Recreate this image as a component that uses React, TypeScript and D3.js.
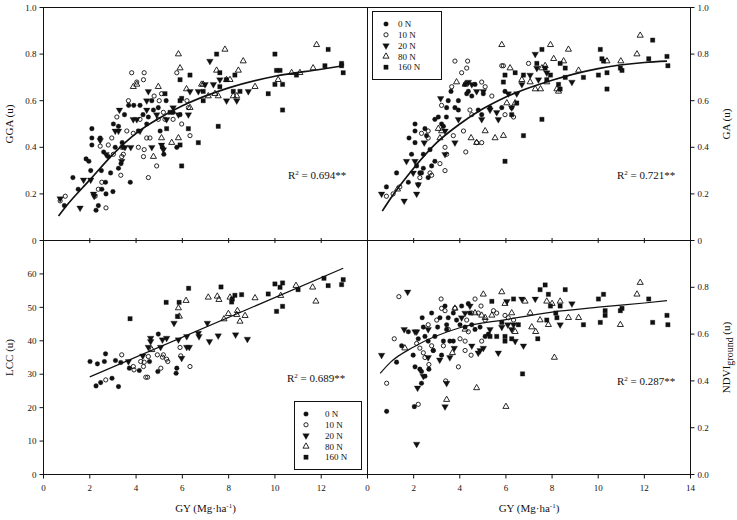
import { useRef, useEffect } from "react";
import * as d3 from "d3";

type Pt = [number, number];

const seriesNames = ["0 N", "10 N", "20 N", "80 N", "160 N"];

// GGA (top left)
const gga0N: Pt[] = [
    [1.27, 0.27], [0.9, 0.15], [2.09, 0.48], [2.09, 0.44], [2.09, 0.41], [1.84, 0.35], [1.96, 0.34],
    [2.04, 0.3], [2.45, 0.44], [2.27, 0.13], [2.37, 0.15], [2.52, 0.22], [2.7, 0.2], [3.0, 0.21],
    [2.68, 0.25], [2.6, 0.38], [2.8, 0.36], [2.9, 0.29], [3.02, 0.5], [3.24, 0.49], [3.24, 0.31],
    [3.35, 0.33], [3.4, 0.42], [3.45, 0.4], [3.5, 0.54], [3.68, 0.58], [3.75, 0.25], [3.9, 0.58],
    [4.17, 0.58], [4.3, 0.54], [4.46, 0.5], [4.53, 0.53], [4.68, 0.6], [4.75, 0.56], [4.96, 0.57],
    [5.04, 0.47], [5.14, 0.4], [5.2, 0.37], [5.3, 0.6], [5.6, 0.55], [5.76, 0.4], [5.9, 0.54],
    [3.1, 0.4], [2.5, 0.3], [1.5, 0.22], [4.1, 0.47],
];
const gga10N: Pt[] = [
    [0.72, 0.17], [0.94, 0.19], [2.23, 0.19], [2.37, 0.22], [2.52, 0.25], [2.45, 0.405], [2.7, 0.14],
    [2.8, 0.41], [2.95, 0.44], [3.17, 0.53], [3.34, 0.28], [3.38, 0.36], [3.45, 0.37], [3.6, 0.47],
    [3.67, 0.6], [3.81, 0.72], [4.03, 0.68], [4.32, 0.69], [4.35, 0.72], [4.32, 0.36], [4.35, 0.39],
    [4.46, 0.44], [4.53, 0.27], [4.6, 0.44], [4.89, 0.32], [4.96, 0.52], [5.0, 0.6], [5.1, 0.63],
    [5.18, 0.55], [5.25, 0.52], [5.76, 0.72], [5.97, 0.5], [6.33, 0.45], [6.26, 0.57], [4.78, 0.62],
    [4.17, 0.52], [3.88, 0.46], [3.02, 0.37], [4.1, 0.4], [3.38, 0.4], [6.2, 0.6], [5.6, 0.52],
];
const gga20N: Pt[] = [
    [0.72, 0.18], [1.58, 0.14], [1.73, 0.26], [2.04, 0.26], [2.16, 0.2], [2.19, 0.19], [2.7, 0.37],
    [3.28, 0.56], [3.1, 0.47], [3.24, 0.47], [3.38, 0.34], [3.52, 0.4], [3.77, 0.4], [3.88, 0.52],
    [4.03, 0.52], [4.46, 0.6], [4.53, 0.64], [4.68, 0.4], [5.1, 0.41], [5.18, 0.39], [5.32, 0.52],
    [5.83, 0.54], [6.26, 0.54], [6.33, 0.64], [6.69, 0.64], [7.19, 0.77], [7.34, 0.67], [7.91, 0.6],
    [8.35, 0.6], [8.85, 0.64], [5.6, 0.57], [4.46, 0.56], [4.17, 0.47], [2.45, 0.43], [4.89, 0.54],
    [6.98, 0.67], [7.62, 0.69],
];
const gga80N: Pt[] = [
    [3.88, 0.66], [4.03, 0.67], [4.75, 0.36], [4.96, 0.66], [5.1, 0.44], [5.54, 0.42], [5.83, 0.8],
    [5.9, 0.74], [5.83, 0.44], [6.18, 0.65], [7.12, 0.62], [7.55, 0.62], [7.84, 0.82], [7.91, 0.69],
    [8.06, 0.69], [8.2, 0.62], [8.35, 0.62], [8.42, 0.73], [8.63, 0.77], [9.14, 0.66], [10.14, 0.69],
    [10.72, 0.72], [11.08, 0.72], [11.65, 0.74], [11.8, 0.84], [7.48, 0.73], [7.41, 0.63], [6.83, 0.67],
    [6.9, 0.67], [6.33, 0.57],
];
const gga160N: Pt[] = [
    [5.25, 0.63], [5.32, 0.48], [5.47, 0.55], [5.9, 0.69], [5.9, 0.41], [5.97, 0.32], [6.33, 0.71],
    [6.26, 0.48], [6.69, 0.42], [6.9, 0.6], [7.48, 0.8], [7.55, 0.49], [7.62, 0.72], [7.62, 0.66],
    [8.2, 0.64], [8.27, 0.71], [8.49, 0.64], [9.71, 0.63], [10.0, 0.8], [10.0, 0.67], [10.07, 0.73],
    [10.22, 0.73], [10.33, 0.67], [10.33, 0.56], [12.16, 0.75], [12.3, 0.82], [12.88, 0.76],
    [12.95, 0.72], [12.88, 0.75], [5.97, 0.61], [5.9, 0.6], [7.9, 0.69], [10.93, 0.71], [6.9, 0.64],
];
const ggaFit: Pt[] = [
    [0.65, 0.105], [1, 0.15], [2, 0.26], [3, 0.37], [4, 0.46], [5, 0.525], [6, 0.578],
    [8, 0.655], [10, 0.705], [12, 0.735], [12.95, 0.75],
];

// GA (top right)
const ga0N: Pt[] = [
    [0.82, 0.23], [1.26, 0.29], [1.77, 0.25], [1.8, 0.44], [1.91, 0.37], [2.06, 0.42], [2.06, 0.5],
    [2.06, 0.47], [2.13, 0.32], [2.27, 0.29], [2.34, 0.29], [2.42, 0.31], [2.49, 0.48], [2.63, 0.27],
    [2.56, 0.45], [2.71, 0.39], [2.78, 0.32], [2.92, 0.34], [2.92, 0.52], [3.07, 0.53], [3.21, 0.5],
    [3.29, 0.49], [3.42, 0.53], [3.5, 0.6], [3.62, 0.64], [3.79, 0.57], [3.94, 0.6], [4.23, 0.67],
    [4.3, 0.63], [4.37, 0.64], [4.52, 0.62], [4.66, 0.67], [4.8, 0.56], [4.95, 0.54], [5.31, 0.57],
    [5.82, 0.57], [5.96, 0.64], [3.43, 0.57], [2.42, 0.37], [3.94, 0.56], [5.02, 0.63],
];
const ga10N: Pt[] = [
    [0.82, 0.19], [1.11, 0.2], [1.4, 0.23], [2.2, 0.24], [2.27, 0.27], [2.34, 0.46], [2.63, 0.47],
    [2.63, 0.44], [2.71, 0.29], [2.78, 0.28], [3.14, 0.33], [3.21, 0.58], [3.36, 0.4], [3.36, 0.3],
    [3.43, 0.37], [3.65, 0.66], [3.79, 0.77], [4.08, 0.72], [4.16, 0.47], [4.26, 0.38], [4.3, 0.74],
    [4.34, 0.77], [4.44, 0.56], [4.52, 0.54], [4.73, 0.42], [4.95, 0.42], [4.95, 0.68], [5.1, 0.66],
    [5.39, 0.62], [5.82, 0.75], [5.89, 0.75], [5.96, 0.54], [6.33, 0.53], [6.25, 0.57], [6.98, 0.76],
    [3.72, 0.45],
];
const ga20N: Pt[] = [
    [0.61, 0.2], [1.59, 0.17], [1.69, 0.34], [1.98, 0.29], [2.06, 0.34], [2.13, 0.2], [2.2, 0.24],
    [2.46, 0.42], [3.17, 0.61], [3.36, 0.47], [3.36, 0.37], [3.79, 0.42], [3.94, 0.52], [4.37, 0.68],
    [4.52, 0.67], [4.73, 0.64], [4.95, 0.52], [5.02, 0.64], [5.31, 0.56], [5.6, 0.55], [5.67, 0.52],
    [6.1, 0.63], [6.25, 0.57], [6.47, 0.63], [6.69, 0.67], [7.05, 0.71], [7.27, 0.8], [7.41, 0.69],
    [7.77, 0.72], [8.86, 0.68], [7.34, 0.74],
];
const ga80N: Pt[] = [
    [1.3, 0.22], [3.07, 0.48], [3.14, 0.44], [3.21, 0.47], [3.86, 0.68], [4.23, 0.67], [4.49, 0.44],
    [4.73, 0.42], [5.1, 0.47], [5.53, 0.44], [5.82, 0.84], [5.89, 0.45], [6.04, 0.59], [6.18, 0.74],
    [6.69, 0.69], [7.05, 0.68], [7.27, 0.65], [7.5, 0.65], [7.7, 0.75], [7.93, 0.84], [8.07, 0.78],
    [8.21, 0.65], [8.28, 0.64], [8.5, 0.77], [8.71, 0.82], [9.15, 0.73], [10.38, 0.77], [10.98, 0.77],
    [11.68, 0.8], [11.82, 0.88], [7.56, 0.74], [7.77, 0.68], [6.4, 0.59],
];
const ga160N: Pt[] = [
    [5.96, 0.34], [5.96, 0.71], [5.89, 0.68], [6.4, 0.72], [6.47, 0.59], [6.25, 0.54], [6.76, 0.45],
    [7.34, 0.76], [7.56, 0.82], [7.56, 0.52], [7.7, 0.74], [7.77, 0.69], [7.93, 0.71], [8.28, 0.67],
    [8.35, 0.76], [8.35, 0.65], [8.57, 0.74], [8.57, 0.7], [9.36, 0.7], [10.01, 0.71], [10.09, 0.82],
    [10.16, 0.78], [10.23, 0.77], [10.38, 0.72], [10.38, 0.65], [10.96, 0.74], [11.03, 0.73],
    [12.19, 0.78], [12.36, 0.86], [12.98, 0.79], [13.02, 0.75], [6.76, 0.71],
];
const gaFit: Pt[] = [
    [0.64, 0.126], [1, 0.18], [2, 0.31], [3, 0.42], [4, 0.5], [5, 0.565], [6, 0.616],
    [8, 0.688], [10, 0.738], [12, 0.764], [12.98, 0.77],
];

// LCC (bottom left)
const lcc0N: Pt[] = [
    [2.01, 33.8], [2.27, 26.5], [2.33, 33.1], [2.47, 27.5], [2.63, 33.8], [2.68, 36.1], [2.96, 28.8],
    [3.11, 34.1], [3.24, 26.3], [3.34, 33.5], [3.71, 31.8], [4.14, 31.1], [4.58, 33.8], [4.96, 42],
    [4.94, 30.8], [5.76, 31.8], [5.73, 30.3],
];
const lcc10N: Pt[] = [
    [2.69, 28.3], [3.38, 35.8], [3.88, 32.3], [3.91, 31.3], [4.2, 33.8], [4.32, 32.3], [4.35, 33.6],
    [4.42, 29.1], [4.5, 29.1], [4.53, 35.3], [4.92, 35.8], [5.07, 31.8], [5.14, 35.1], [5.18, 35.8],
    [5.32, 34.5], [5.37, 33.8], [5.9, 38], [5.93, 35.5], [6.33, 32.3],
];
const lcc20N: Pt[] = [
    [3.67, 33.8], [4.29, 35.5], [4.53, 38.1], [4.63, 40.8], [4.63, 39.8], [5.06, 38.1], [5.14, 40.3],
    [5.32, 40.8], [5.64, 45.3], [5.83, 40.3], [5.97, 34.8], [6.19, 38.1], [6.3, 38.1], [6.69, 42.3],
    [6.72, 41.3], [7.17, 39.8], [7.08, 45.3], [7.55, 41.5], [8.3, 41.8], [8.81, 40.5], [6.19, 41.3],
];
const lcc80N: Pt[] = [
    [4.68, 37.3], [5.83, 49.8], [5.87, 47.3], [6.16, 52], [7.12, 53], [7.51, 53.3], [7.58, 52.3],
    [7.8, 46.5], [7.99, 48.1], [8.06, 53], [8.35, 47.8], [8.38, 49], [8.49, 45.8], [8.71, 47.5],
    [9.14, 52.8], [10.91, 56.5], [10.25, 53.5], [11.77, 51.8], [11.63, 56],
];
const lcc160N: Pt[] = [
    [3.74, 46.6], [5.3, 51.5], [5.86, 51.5], [5.79, 47.3], [6.27, 55.7], [7.67, 56.1], [8.13, 51.6],
    [8.27, 53.6], [8.56, 53.8], [9.71, 54], [10, 57], [10.07, 48.8], [10.22, 56], [10.33, 50.3],
    [10.33, 57.3], [11.0, 55.3], [12.12, 58.7], [12.3, 56.5], [12.88, 56.8], [12.95, 58.3], [8.16, 52.5],
];
const lccFit: Pt[] = [[2.0, 29.2], [12.95, 61.7]];

// NDVI ground (bottom right)
const ndvi0N: Pt[] = [
    [0.83, 0.27], [1.26, 0.48], [1.48, 0.55], [1.77, 0.61], [1.98, 0.51], [2.06, 0.46], [2.03, 0.29],
    [2.2, 0.58], [2.27, 0.45], [2.34, 0.39], [2.37, 0.67], [2.49, 0.59], [2.49, 0.42], [2.63, 0.57],
    [2.66, 0.45], [2.78, 0.69], [2.85, 0.53], [2.92, 0.59], [3.04, 0.63], [3.14, 0.67], [3.21, 0.51],
    [3.29, 0.57], [3.36, 0.72], [3.43, 0.64], [3.5, 0.67], [3.57, 0.57], [3.72, 0.57], [3.72, 0.69],
    [3.86, 0.66], [4.08, 0.72], [4.23, 0.63], [4.37, 0.73], [4.44, 0.69], [4.52, 0.64], [4.66, 0.62],
    [4.88, 0.63], [5.1, 0.59], [5.24, 0.6], [2.34, 0.44], [2.42, 0.63], [4.01, 0.64], [3.43, 0.62],
];
const ndvi10N: Pt[] = [
    [0.83, 0.39], [1.16, 0.58], [1.36, 0.76], [2.13, 0.56], [2.2, 0.3], [2.27, 0.54], [2.42, 0.52],
    [2.49, 0.5], [2.63, 0.64], [2.66, 0.47], [2.78, 0.55], [2.85, 0.53], [3.0, 0.66], [3.19, 0.75],
    [3.21, 0.71], [3.29, 0.55], [3.36, 0.7], [3.39, 0.4], [3.5, 0.62], [3.79, 0.71], [3.94, 0.46],
    [4.01, 0.58], [4.23, 0.57], [4.3, 0.66], [4.37, 0.61], [4.49, 0.51], [4.52, 0.69], [4.66, 0.75],
    [4.8, 0.69], [4.92, 0.72], [4.95, 0.57], [5.1, 0.66], [5.46, 0.7], [5.6, 0.69], [5.96, 0.68],
    [6.1, 0.67], [6.33, 0.66], [4.23, 0.53],
];
const ndvi20N: Pt[] = [
    [0.61, 0.51], [1.59, 0.62], [1.74, 0.78], [2.06, 0.61], [2.13, 0.61], [2.17, 0.37], [2.13, 0.13],
    [2.42, 0.42], [2.63, 0.5], [2.63, 0.62], [3.13, 0.49], [3.36, 0.29], [3.43, 0.39], [3.57, 0.5],
    [3.76, 0.54], [4.08, 0.67], [4.44, 0.72], [4.52, 0.55], [4.8, 0.52], [4.88, 0.53], [5.02, 0.54],
    [5.31, 0.62], [5.67, 0.52], [5.82, 0.63], [6.04, 0.74], [6.08, 0.64], [6.33, 0.64], [6.4, 0.57],
    [6.69, 0.75], [6.76, 0.55], [7.27, 0.75], [8.35, 0.64], [8.86, 0.73], [4.23, 0.69], [6.25, 0.62],
];
const ndvi80N: Pt[] = [
    [1.62, 0.54], [3.43, 0.32], [3.68, 0.52], [3.79, 0.71], [4.73, 0.37], [4.95, 0.68], [5.02, 0.77],
    [5.1, 0.67], [5.39, 0.68], [5.82, 0.78], [5.96, 0.73], [6.0, 0.29], [6.25, 0.69], [6.4, 0.61],
    [6.83, 0.74], [7.05, 0.69], [7.12, 0.63], [7.29, 0.61], [7.48, 0.66], [7.77, 0.74], [7.84, 0.64],
    [8.0, 0.73], [8.1, 0.5], [8.35, 0.74], [8.71, 0.67], [9.15, 0.67], [10.96, 0.64], [11.68, 0.77],
    [11.82, 0.82], [4.23, 0.62], [4.66, 0.69],
];
const ndvi160N: Pt[] = [
    [5.31, 0.59], [5.6, 0.59], [5.82, 0.65], [5.96, 0.57], [5.96, 0.59], [6.25, 0.58], [6.33, 0.75],
    [6.72, 0.43], [7.38, 0.58], [7.48, 0.79], [7.7, 0.81], [7.77, 0.66], [7.84, 0.77], [7.93, 0.72],
    [8.16, 0.69], [8.21, 0.67], [8.57, 0.79], [8.35, 0.72], [9.36, 0.64], [10.01, 0.75], [10.09, 0.65],
    [10.23, 0.77], [10.3, 0.7], [10.3, 0.68], [10.96, 0.7], [11.03, 0.71], [12.19, 0.75], [12.36, 0.65],
    [12.98, 0.68], [13.02, 0.64], [5.39, 0.74], [6.54, 0.64],
];
const ndviFit: Pt[] = [
    [0.55, 0.432], [1, 0.48], [2, 0.545], [4, 0.627], [6, 0.662], [8, 0.694],
    [10, 0.715], [12, 0.733], [12.98, 0.743],
];

const r2Labels = ["0.694**", "0.721**", "0.689**", "0.287**"];
const xTicks = [0, 2, 4, 6, 8, 10, 12, 14];

const FONT = "'Liberation Serif', 'Times New Roman', serif";
const INK = "#111";

const App: React.FC = () => {
    const svgRef = useRef<SVGSVGElement | null>(null);

    useEffect(() => {
        if (!svgRef.current) return;
        const width = 737;
        const height = 520;
        const x0 = 43.5, xm = 367.5, x1 = 690.5;
        const y0 = 7.5, ym = 240.5, y1 = 474.5;

        const xL = d3.scaleLinear().domain([0, 14]).range([x0, xm]);
        const xR = d3.scaleLinear().domain([0, 14]).range([xm, x1]);
        const yTop = d3.scaleLinear().domain([0, 1]).range([ym, y0]);
        const yLcc = d3.scaleLinear().domain([0, 70]).range([y1, ym]);
        const yNdvi = d3.scaleLinear().domain([0, 1]).range([y1, ym]);

        const svg = d3.select(svgRef.current);
        svg.selectAll("*").remove();
        svg.attr("width", width).attr("height", height)
            .style("font-family", FONT);

        svg.append("rect").attr("width", width).attr("height", height).attr("fill", "#fff");

        const symbolFor = (i: number) => {
            const types = [d3.symbolCircle, d3.symbolCircle, d3.symbolTriangle, d3.symbolTriangle, d3.symbolSquare];
            const sizes = [17, 14, 19, 16, 19];
            return d3.symbol().type(types[i]).size(sizes[i])() ?? "";
        };
        const drawMarker = (
            g: d3.Selection<SVGGElement, unknown, null, undefined>,
            i: number, cx: number, cy: number,
        ) => {
            const open = i === 1 || i === 3;
            g.append("path")
                .attr("d", symbolFor(i))
                .attr("transform", `translate(${cx},${cy})${i === 2 ? " rotate(180)" : ""}`)
                .attr("fill", open ? "none" : INK)
                .attr("stroke", INK)
                .attr("stroke-width", open ? 0.9 : 0.3);
        };

        const panels = [
            { x: xL, y: yTop, sets: [gga0N, gga10N, gga20N, gga80N, gga160N], fit: ggaFit, fw: 1.7, r2: r2Labels[0], rx: 288, ry: 179 },
            { x: xR, y: yTop, sets: [ga0N, ga10N, ga20N, ga80N, ga160N], fit: gaFit, fw: 1.7, r2: r2Labels[1], rx: 617, ry: 179 },
            { x: xL, y: yLcc, sets: [lcc0N, lcc10N, lcc20N, lcc80N, lcc160N], fit: lccFit, fw: 1.2, r2: r2Labels[2], rx: 287, ry: 382 },
            { x: xR, y: yNdvi, sets: [ndvi0N, ndvi10N, ndvi20N, ndvi80N, ndvi160N], fit: ndviFit, fw: 1.2, r2: r2Labels[3], rx: 617, ry: 385 },
        ];

        panels.forEach((p) => {
            const g = svg.append("g");
            p.sets.forEach((pts, i) => {
                pts.forEach(([dx, dy]) => drawMarker(g, i, p.x(dx), p.y(dy)));
            });
            const line = d3.line<Pt>()
                .x((d) => p.x(d[0]))
                .y((d) => p.y(d[1]))
                .curve(d3.curveMonotoneX);
            g.append("path").attr("d", line(p.fit) ?? "")
                .attr("fill", "none").attr("stroke", INK).attr("stroke-width", p.fw);
            const t = g.append("text").attr("x", p.rx).attr("y", p.ry)
                .attr("font-size", 11).attr("fill", INK);
            t.append("tspan").text("R");
            t.append("tspan").attr("dy", -4).attr("font-size", 7).text("2");
            t.append("tspan").attr("dy", 4).text(` = ${p.r2}`);
        });

        // frame
        const frame = svg.append("g").attr("stroke", INK).attr("stroke-width", 1).attr("fill", "none");
        frame.append("rect").attr("x", x0).attr("y", y0).attr("width", x1 - x0).attr("height", y1 - y0);
        frame.append("line").attr("x1", xm).attr("x2", xm).attr("y1", y0).attr("y2", y1);
        frame.append("line").attr("x1", x0).attr("x2", x1).attr("y1", ym).attr("y2", ym);

        const ticks = svg.append("g").attr("stroke", INK).attr("stroke-width", 1);
        const labels = svg.append("g").attr("font-size", 9).attr("fill", INK);

        const fmt1 = d3.format(".1f");
        yTop.ticks(5).forEach((v) => {
            const yy = yTop(v);
            const lab = v === 0 ? "0" : fmt1(v);
            ticks.append("line").attr("x1", x0 - 4).attr("x2", x0).attr("y1", yy).attr("y2", yy);
            ticks.append("line").attr("x1", x1).attr("x2", x1 + 4).attr("y1", yy).attr("y2", yy);
            labels.append("text").attr("x", x0 - 7).attr("y", yy).attr("dy", "0.35em")
                .attr("text-anchor", "end").text(lab);
            labels.append("text").attr("x", x1 + 7).attr("y", yy).attr("dy", "0.35em").text(lab);
        });
        d3.range(0, 61, 10).forEach((v) => {
            const yy = yLcc(v);
            ticks.append("line").attr("x1", x0 - 4).attr("x2", x0).attr("y1", yy).attr("y2", yy);
            labels.append("text").attr("x", x0 - 7).attr("y", yy).attr("dy", "0.35em")
                .attr("text-anchor", "end").text(String(v));
        });
        yNdvi.ticks(5).filter((v) => v < 1).forEach((v) => {
            const yy = yNdvi(v);
            ticks.append("line").attr("x1", x1).attr("x2", x1 + 4).attr("y1", yy).attr("y2", yy);
            labels.append("text").attr("x", x1 + 7).attr("y", yy).attr("dy", "0.35em").text(fmt1(v));
        });
        // x ticks on the bottom axis and across the middle line
        xTicks.forEach((v) => {
            [xL, xR].forEach((sx, k) => {
                if (k === 0 && v === 14) return;
                const xx = sx(v);
                ticks.append("line").attr("x1", xx).attr("x2", xx).attr("y1", y1).attr("y2", y1 + 4);
                if (v > 0 && v < 14) {
                    ticks.append("line").attr("x1", xx).attr("x2", xx).attr("y1", ym - 2.5).attr("y2", ym + 2.5);
                }
                labels.append("text").attr("x", xx).attr("y", y1 + 16)
                    .attr("text-anchor", "middle").text(String(v));
            });
        });

        // axis titles
        const titles = svg.append("g").attr("font-size", 11).attr("fill", INK).attr("text-anchor", "middle");
        const vTitle = (x: number, y: number) =>
            titles.append("text").attr("transform", `translate(${x},${y}) rotate(-90)`);
        vTitle(13, (y0 + ym) / 2).text("GGA (u)");
        vTitle(13, (ym + y1) / 2).text("LCC (u)");
        vTitle(730, (y0 + ym) / 2).text("GA (u)");
        const nd = vTitle(730, (ym + y1) / 2);
        nd.append("tspan").text("NDVI");
        nd.append("tspan").attr("dy", 3).attr("font-size", 10).text("ground");
        nd.append("tspan").attr("dy", -3).text(" (u)");
        [(x0 + xm) / 2, (xm + x1) / 2].forEach((cx) => {
            const t = titles.append("text").attr("x", cx).attr("y", 512);
            t.append("tspan").text("GY (Mg·ha");
            t.append("tspan").attr("dy", -4).attr("font-size", 7).text("-1");
            t.append("tspan").attr("dy", 4).text(")");
        });

        // legends
        const legend = (bx: number, by: number, w: number, h: number, sx: number, tx: number) => {
            const g = svg.append("g");
            g.append("rect").attr("x", bx).attr("y", by).attr("width", w).attr("height", h)
                .attr("fill", "#fff").attr("stroke", INK).attr("stroke-width", 1);
            seriesNames.forEach((name, i) => {
                const yy = by + 12.5 + i * 10.8;
                drawMarker(g, i, sx, yy);
                g.append("text").attr("x", tx).attr("y", yy).attr("dy", "0.35em")
                    .attr("font-size", 9).attr("fill", INK).text(name);
            });
        };
        legend(372.5, 11.5, 69, 68, 386, 398);
        legend(294.5, 401.5, 67, 68, 306, 325);
    }, []);

    return (
        <svg
            ref={svgRef}
            style={{ position: "absolute", left: 0, top: 0, display: "block" }}
        />
    );
};

export default App;
